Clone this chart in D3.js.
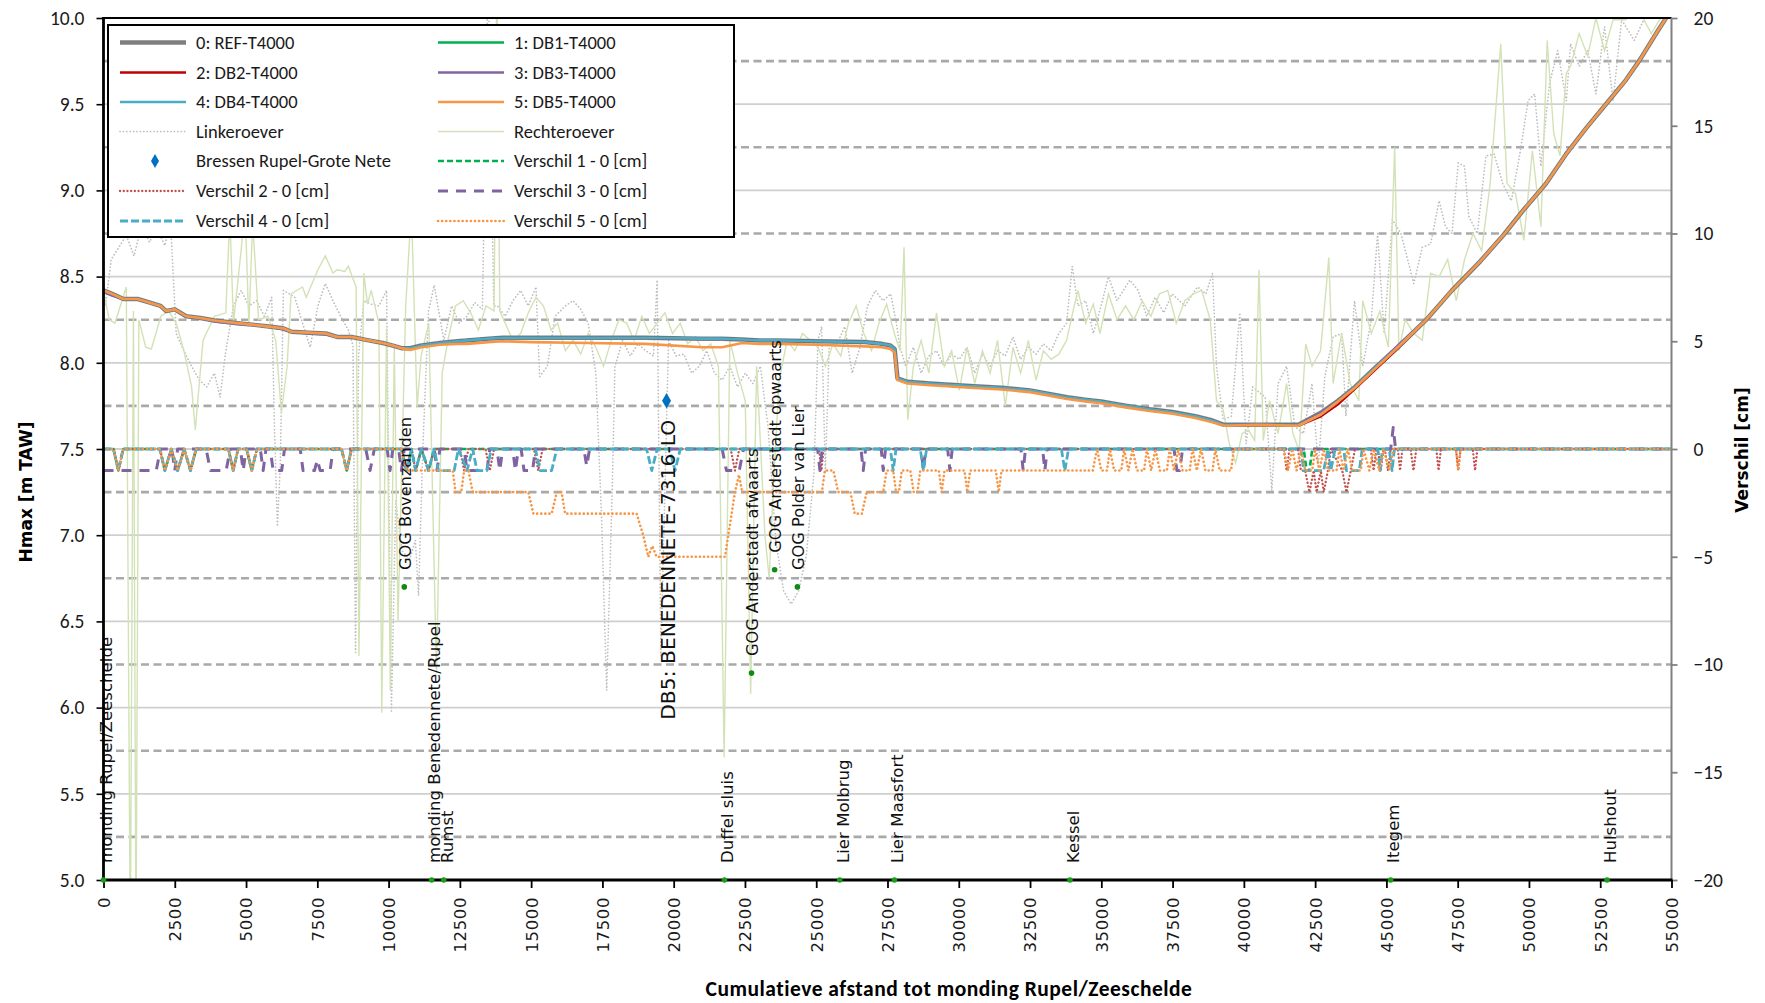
<!DOCTYPE html>
<html lang="nl">
<head>
<meta charset="UTF-8">
<title>Hmax langsprofiel Benedennete</title>
<script src="https://d3js.org/d3.v7.min.js"></script>
<style>
  body { margin: 0; background: #fff; }
  svg { display: block; }
  .tick text { fill: #1a1a1a; }
  .lbl { font-family: "DejaVu Sans", Verdana, sans-serif; fill: #111; }
</style>
</head>
<body>
<script>
// ---- data (afstand in m, waterstand in m TAW, verschil in cm) ----
const xTicks = d3.range(0, 55001, 2500);
const leftTicks = [5.0, 5.5, 6.0, 6.5, 7.0, 7.5, 8.0, 8.5, 9.0, 9.5, 10.0];
const rightTicks = [-20, -15, -10, -5, 0, 5, 10, 15, 20];
const rightGrid = [-18, -14, -10, -6, -2, 2, 6, 10, 14, 18];

const xH = [0, 300, 700, 1200, 1600, 2000, 2200, 2500, 2900, 3400, 3900, 4700, 5300, 5800, 6300, 6600, 7200, 7800, 8200, 8700,
  9300, 9800, 10150, 10450, 10750, 11150, 11800, 12400, 12750, 13500, 14000, 15000, 17000, 19000, 21000, 21700, 22400, 23000, 23700, 25000,
  26700, 27300, 27600, 27750, 27850, 28200, 29000, 30400, 31500, 32500, 33800, 34500, 35000, 35900, 36700, 37500, 38300, 38900, 39300, 40500,
  41900, 42700, 43300, 43900, 44600, 45400, 46400, 47300, 48300, 49100, 49800, 50600, 51300, 52000, 52800, 53400, 53900, 54500, 55000];

const hREF = [8.42, 8.40, 8.37, 8.37, 8.35, 8.33, 8.30, 8.31, 8.27, 8.26, 8.245, 8.23, 8.22, 8.21, 8.20, 8.18, 8.175, 8.17, 8.15, 8.15,
  8.13, 8.115, 8.10, 8.085, 8.085, 8.10, 8.115, 8.125, 8.13, 8.14, 8.145, 8.145, 8.145, 8.145, 8.14, 8.14, 8.135, 8.13, 8.13, 8.125,
  8.12, 8.11, 8.10, 8.08, 7.91, 7.89, 7.88, 7.865, 7.855, 7.84, 7.80, 7.785, 7.775, 7.75, 7.73, 7.715, 7.69, 7.665, 7.64, 7.64,
  7.64, 7.71, 7.78, 7.86, 7.97, 8.09, 8.25, 8.42, 8.59, 8.74, 8.885, 9.04, 9.21, 9.36, 9.52, 9.64, 9.76, 9.92, 10.05];
const hDB1 = [8.42, 8.40, 8.37, 8.37, 8.35, 8.33, 8.30, 8.31, 8.27, 8.26, 8.245, 8.23, 8.22, 8.21, 8.20, 8.18, 8.175, 8.17, 8.15, 8.15,
  8.13, 8.115, 8.10, 8.085, 8.085, 8.10, 8.115, 8.125, 8.13, 8.14, 8.145, 8.145, 8.145, 8.145, 8.14, 8.14, 8.135, 8.13, 8.13, 8.125,
  8.12, 8.11, 8.10, 8.08, 7.91, 7.89, 7.88, 7.865, 7.855, 7.84, 7.80, 7.785, 7.775, 7.75, 7.73, 7.715, 7.69, 7.665, 7.64, 7.64,
  7.64, 7.70, 7.78, 7.86, 7.97, 8.09, 8.25, 8.42, 8.59, 8.74, 8.885, 9.04, 9.21, 9.36, 9.52, 9.64, 9.76, 9.92, 10.05];
const hDB2 = [8.42, 8.40, 8.37, 8.37, 8.35, 8.33, 8.30, 8.31, 8.27, 8.26, 8.245, 8.23, 8.22, 8.21, 8.20, 8.18, 8.175, 8.17, 8.15, 8.15,
  8.13, 8.115, 8.10, 8.085, 8.085, 8.10, 8.115, 8.125, 8.13, 8.14, 8.145, 8.145, 8.145, 8.145, 8.14, 8.14, 8.135, 8.13, 8.13, 8.125,
  8.12, 8.11, 8.10, 8.08, 7.91, 7.89, 7.88, 7.865, 7.855, 7.84, 7.80, 7.785, 7.775, 7.75, 7.73, 7.715, 7.69, 7.665, 7.64, 7.64,
  7.635, 7.69, 7.76, 7.85, 7.96, 8.085, 8.25, 8.42, 8.59, 8.74, 8.885, 9.04, 9.21, 9.36, 9.52, 9.64, 9.76, 9.92, 10.05];
const hDB3 = [8.41, 8.39, 8.37, 8.37, 8.35, 8.33, 8.30, 8.31, 8.27, 8.26, 8.24, 8.225, 8.22, 8.21, 8.195, 8.18, 8.17, 8.165, 8.15, 8.15,
  8.13, 8.115, 8.10, 8.085, 8.085, 8.10, 8.115, 8.125, 8.13, 8.14, 8.145, 8.145, 8.145, 8.145, 8.14, 8.14, 8.135, 8.13, 8.13, 8.125,
  8.12, 8.11, 8.10, 8.08, 7.91, 7.89, 7.88, 7.865, 7.855, 7.84, 7.80, 7.785, 7.775, 7.75, 7.73, 7.71, 7.69, 7.665, 7.64, 7.64,
  7.64, 7.71, 7.78, 7.86, 7.97, 8.10, 8.25, 8.42, 8.59, 8.74, 8.885, 9.04, 9.21, 9.36, 9.52, 9.64, 9.76, 9.92, 10.05];
const hDB4 = [8.42, 8.40, 8.37, 8.37, 8.35, 8.33, 8.30, 8.31, 8.27, 8.26, 8.245, 8.23, 8.22, 8.21, 8.20, 8.18, 8.175, 8.17, 8.15, 8.15,
  8.13, 8.115, 8.10, 8.085, 8.085, 8.10, 8.115, 8.125, 8.13, 8.14, 8.145, 8.145, 8.145, 8.145, 8.14, 8.14, 8.135, 8.13, 8.13, 8.125,
  8.12, 8.11, 8.10, 8.08, 7.91, 7.89, 7.88, 7.865, 7.855, 7.84, 7.80, 7.785, 7.775, 7.75, 7.73, 7.715, 7.69, 7.665, 7.64, 7.64,
  7.635, 7.70, 7.775, 7.86, 7.97, 8.09, 8.25, 8.42, 8.59, 8.74, 8.885, 9.04, 9.21, 9.36, 9.52, 9.64, 9.76, 9.92, 10.05];
const hDB5 = [8.42, 8.40, 8.37, 8.37, 8.35, 8.33, 8.30, 8.31, 8.27, 8.26, 8.245, 8.23, 8.22, 8.21, 8.20, 8.18, 8.175, 8.17, 8.15, 8.15,
  8.13, 8.115, 8.10, 8.085, 8.075, 8.09, 8.105, 8.11, 8.11, 8.12, 8.125, 8.12, 8.115, 8.11, 8.09, 8.09, 8.115, 8.11, 8.11, 8.105,
  8.095, 8.09, 8.08, 8.06, 7.90, 7.88, 7.87, 7.855, 7.845, 7.83, 7.79, 7.775, 7.765, 7.74, 7.72, 7.705, 7.68, 7.655, 7.635, 7.64,
  7.635, 7.70, 7.775, 7.855, 7.965, 8.09, 8.25, 8.42, 8.59, 8.74, 8.885, 9.04, 9.21, 9.36, 9.52, 9.64, 9.76, 9.92, 10.05];

// oeverhoogtes [afstand, m TAW]
const linkeroever = [[0, 8.40], [70, 8.33], [270, 8.60], [540, 8.67], [800, 8.74], [1070, 8.62], [1340, 8.80], [1610, 8.70], [1880, 8.78], [2150, 8.68],
  [2350, 8.82], [2550, 8.17], [2820, 8.07], [3090, 7.98], [3360, 7.90], [3620, 7.86], [3890, 7.94], [4090, 7.80], [4290, 8.07], [4560, 8.33],
  [4830, 8.42], [5100, 8.33], [5370, 8.36], [5640, 8.27], [5900, 8.38], [6000, 7.60], [6100, 7.05], [6200, 7.40], [6310, 8.42], [6710, 8.38],
  [6980, 8.23], [7250, 8.09], [7520, 8.33], [7780, 8.46], [8050, 8.36], [8320, 8.27], [8590, 8.19], [8750, 8.10], [8840, 6.32], [8950, 8.05],
  [9130, 8.36], [9390, 8.34], [9660, 8.33], [9930, 8.42], [10100, 5.98], [10250, 7.20], [10470, 6.91], [10740, 6.86], [10940, 6.97], [11050, 6.65],
  [11200, 7.50], [11400, 8.30], [11600, 8.45], [11940, 8.13], [12210, 8.33], [12480, 8.23], [12750, 8.27], [13020, 8.35], [13290, 8.31], [13490, 10.30],
  [13690, 8.33], [13820, 8.33], [14090, 8.27], [14360, 8.36], [14630, 8.42], [14900, 8.33], [15170, 8.44], [15300, 7.92], [15570, 7.98], [15840, 8.27],
  [16200, 8.33], [16470, 8.36], [16740, 8.31], [17000, 8.23], [17270, 7.94], [17470, 7.10], [17650, 6.10], [17850, 7.30], [17940, 7.98], [18210, 8.13],
  [18480, 8.04], [18750, 8.11], [19020, 8.07], [19290, 8.04], [19420, 8.48], [19550, 6.30], [19820, 8.13], [20090, 8.04], [20360, 8.05], [20630, 7.94],
  [20900, 7.98], [21160, 8.07], [21430, 7.94], [21700, 7.90], [21970, 7.98], [22240, 7.86], [22510, 7.94], [22780, 7.88], [23040, 7.98], [23310, 7.63],
  [23580, 6.97], [23850, 6.68], [24120, 6.60], [24390, 6.68], [24650, 6.88], [24920, 7.36], [25060, 8.13], [25190, 8.21], [25320, 7.36], [25460, 8.13],
  [25730, 8.11], [26000, 8.21], [26260, 7.94], [26530, 8.09], [26800, 8.33], [27070, 8.42], [27340, 8.36], [27610, 8.40], [27810, 8.23], [27940, 8.09],
  [28140, 7.98], [28410, 8.09], [28680, 7.94], [28950, 8.04], [29220, 8.07], [29490, 7.98], [29750, 8.05], [30020, 8.02], [30290, 8.09], [30560, 7.94],
  [30830, 8.05], [31100, 7.98], [31360, 8.07], [31630, 8.04], [31900, 8.15], [32170, 8.02], [32440, 8.09], [32710, 8.05], [32970, 8.11], [33240, 8.07],
  [33510, 8.17], [33780, 8.23], [33980, 8.56], [34180, 8.33], [34450, 8.36], [34720, 8.17], [34990, 8.33], [35250, 8.50], [35550, 8.36], [36000, 8.48],
  [36290, 8.42], [36590, 8.27], [36890, 8.38], [37190, 8.29], [37480, 8.40], [37930, 8.33], [38370, 8.44], [38670, 8.40], [38900, 8.52], [39040, 7.98],
  [39270, 7.67], [39560, 7.69], [39860, 8.29], [40080, 7.53], [40310, 7.86], [40750, 7.80], [40980, 7.26], [41200, 7.88], [41500, 7.98], [41790, 7.63],
  [42090, 7.59], [42390, 7.88], [42610, 7.40], [42840, 7.92], [43130, 8.15], [43430, 8.17], [43580, 7.69], [43880, 8.36], [44170, 7.98], [44470, 8.25],
  [44690, 8.75], [44920, 8.17], [45210, 8.83], [45510, 8.75], [45960, 8.46], [46260, 8.67], [46550, 8.69], [46850, 8.94], [47070, 8.79], [47300, 8.75],
  [47520, 9.16], [47740, 9.14], [47890, 8.85], [48190, 8.75], [48490, 9.20], [48780, 9.21], [49080, 9.04], [49380, 8.94], [49680, 9.21], [49970, 9.52],
  [50200, 9.56], [50420, 9.14], [50720, 9.62], [51010, 9.81], [51310, 9.52], [51460, 9.85], [51760, 9.72], [52060, 9.81], [52350, 9.56], [52650, 9.95],
  [52950, 9.52], [53250, 9.99], [53690, 9.87], [54140, 10.03], [54580, 10.00], [55000, 10.10]];

const rechteroever = [[0, 8.42], [200, 8.25], [400, 8.23], [800, 8.44], [940, 4.60], [1050, 8.30], [1140, 4.60], [1240, 8.25], [1480, 8.09], [1680, 8.08],
  [2010, 8.27], [2280, 8.30], [2550, 8.23], [2820, 8.07], [3090, 7.86], [3220, 7.61], [3360, 7.88], [3490, 8.13], [3890, 8.27], [4290, 8.29],
  [4430, 8.85], [4560, 8.23], [4970, 8.88], [5100, 8.21], [5230, 8.82], [5440, 8.25], [5770, 8.27], [6040, 8.13], [6240, 7.71], [6440, 7.98],
  [6580, 8.40], [6980, 8.44], [7110, 8.38], [7520, 8.54], [7780, 8.62], [8050, 8.52], [8190, 8.54], [8460, 8.53], [8590, 8.56], [8860, 8.44],
  [8960, 6.30], [9130, 8.52], [9260, 8.34], [9390, 8.42], [9660, 8.23], [9760, 5.97], [9930, 8.20], [10060, 6.10], [10200, 8.10], [10330, 6.50],
  [10600, 8.33], [10800, 8.90], [11000, 7.74], [11140, 8.04], [11410, 8.23], [11680, 6.20], [11880, 7.94], [12080, 8.13], [12350, 8.33], [12620, 8.36],
  [12880, 8.29], [13150, 8.19], [13420, 8.33], [13700, 8.30], [13800, 10.30], [13900, 8.30], [14090, 8.23], [14360, 8.13], [14630, 8.17], [14900, 8.29],
  [15170, 8.38], [15430, 8.33], [15700, 8.19], [15930, 8.23], [16200, 8.07], [16470, 8.13], [16740, 8.05], [17000, 8.17], [17270, 8.09], [17540, 7.98],
  [17810, 8.13], [18080, 8.25], [18350, 8.23], [18610, 8.13], [18880, 8.27], [19150, 8.17], [19420, 8.23], [19690, 8.29], [19960, 8.17], [20230, 8.23],
  [20490, 8.11], [20760, 8.15], [21030, 8.07], [21300, 8.11], [21570, 7.98], [21770, 5.71], [21970, 8.13], [22240, 7.94], [22510, 7.78], [22700, 6.08],
  [22910, 7.98], [23200, 7.00], [23350, 6.75], [23500, 7.30], [23700, 7.90], [23980, 8.13], [24250, 8.07], [24520, 8.17], [24790, 8.13], [25060, 8.09],
  [25320, 7.98], [25590, 8.11], [25860, 8.04], [26130, 8.23], [26400, 8.33], [26670, 8.17], [26940, 8.07], [27200, 8.23], [27470, 8.34], [27740, 8.17],
  [27940, 8.07], [28080, 8.67], [28210, 7.67], [28410, 7.98], [28680, 8.13], [28950, 7.94], [29220, 8.29], [29490, 7.98], [29750, 8.07], [30020, 7.84],
  [30290, 8.09], [30560, 7.88], [30830, 8.07], [31100, 7.94], [31360, 8.13], [31630, 7.75], [31900, 8.09], [32170, 7.94], [32440, 8.13], [32710, 7.90],
  [32970, 8.07], [33240, 8.02], [33510, 8.05], [33780, 8.13], [34050, 8.33], [34180, 8.42], [34450, 8.23], [34720, 8.34], [34950, 8.17], [35250, 8.40],
  [35550, 8.25], [35850, 8.33], [36140, 8.25], [36440, 8.36], [36740, 8.27], [37040, 8.40], [37330, 8.42], [37630, 8.23], [37930, 8.36], [38230, 8.40],
  [38520, 8.42], [38820, 8.25], [39040, 7.78], [39270, 7.73], [39490, 7.53], [39710, 7.42], [39940, 7.59], [40160, 7.61], [40380, 7.55], [40530, 8.54],
  [40680, 7.55], [40900, 7.78], [41200, 7.59], [41500, 7.88], [41720, 7.59], [41940, 7.49], [42170, 8.11], [42390, 7.98], [42690, 8.07], [42980, 8.61],
  [43130, 7.88], [43430, 8.17], [43730, 7.88], [44030, 7.78], [44170, 8.36], [44470, 8.17], [44770, 8.30], [45070, 8.09], [45290, 9.25], [45440, 8.07],
  [45660, 8.25], [45960, 8.17], [46260, 8.13], [46550, 8.52], [46850, 8.50], [47150, 8.60], [47450, 8.36], [47740, 8.60], [48040, 8.75], [48340, 8.65],
  [48640, 9.04], [49010, 9.85], [49230, 9.04], [49530, 8.98], [49820, 8.71], [50120, 9.23], [50420, 8.79], [50640, 9.87], [50870, 9.33], [51090, 9.20],
  [51310, 9.68], [51460, 9.72], [51760, 9.91], [52060, 9.78], [52350, 10.00], [52650, 9.81], [52950, 9.99], [53390, 9.99], [53840, 10.05], [54290, 9.91],
  [54730, 10.03], [55000, 10.10]];

// verschillen t.o.v. referentie [afstand, cm]
const verschil1 = [[0, 0], [350, 0], [520, -1], [690, 0], [1980, 0], [2150, -1], [2380, 0], [2600, -1], [2830, 0], [3050, -1], [3250, 0],
  [4380, 0], [4550, -1], [4720, 0], [5020, 0], [5200, -1], [5380, 0], [8350, 0], [8530, -1], [8700, 0], [10450, 0], [10630, -1], [10800, 0],
  [10950, -1], [11150, 0], [11400, -1], [11600, 0], [42100, 0], [42200, -1], [42300, -1], [42400, 0], [55000, 0]];
const verschil2 = [[0, 0], [350, 0], [520, -1], [690, 0], [1980, 0], [2150, -1], [2380, 0], [2600, -1], [2830, 0], [3050, -1], [3250, 0],
  [4380, 0], [4550, -1], [4720, 0], [5020, 0], [5200, -1], [5380, 0], [8350, 0], [8530, -1], [8700, 0], [10450, 0], [10630, -1], [10800, 0],
  [10950, -1], [11150, 0], [11400, -1], [11600, 0], [12500, 0], [12650, -1], [12800, 0], [13400, 0], [13550, -1], [13700, 0], [15100, 0],
  [15250, -1], [15400, 0], [22000, 0], [22150, -1], [22300, 0], [25100, 0], [25180, -1], [25260, 0], [41400, 0], [41500, -1], [41600, 0],
  [41900, 0], [42000, -1], [42150, -1], [42300, -2], [42450, -1], [42550, -2], [42700, -1], [42800, -2], [42950, -1], [43050, 0], [43450, -1],
  [43600, -2], [43750, -1], [43900, 0], [44450, 0], [44550, -1], [44650, 0], [44700, 0], [44800, -1], [44900, 0], [44950, 0], [45050, -1],
  [45150, 0], [45400, 0], [45480, -1], [45560, 0], [45850, 0], [45950, -1], [46050, 0], [46750, 0], [46830, -1], [46910, 0], [47440, 0],
  [47520, -1], [47600, 0], [48030, 0], [48110, -1], [48190, 0], [55000, 0]];
const verschil3 = [[0, -1], [1850, -1], [2000, 0], [2400, 0], [2500, -1], [2600, 0], [3600, 0], [3750, -1], [4300, -1], [4450, 0], [4800, 0],
  [4900, -1], [5000, 0], [5500, 0], [5600, -1], [5700, 0], [5850, 0], [5950, -1], [6250, -1], [6350, 0], [6900, 0], [7000, -1], [7400, -1],
  [7500, -0.5], [7600, -1], [7950, -1], [8050, 0], [9200, 0], [9350, -1], [9500, 0], [9950, 0], [10050, -1], [10150, 0], [10350, 0],
  [10450, -1], [10550, 0], [11600, 0], [11700, -1], [11800, 0], [12650, 0], [12750, -1], [13450, -1], [13550, 0], [13800, 0], [13900, -1],
  [14000, 0], [14350, 0], [14450, -1], [14550, 0], [14650, 0], [14750, -1], [15050, -1], [15150, 0], [16850, 0], [16950, -0.8], [17050, 0],
  [21700, 0], [21850, -1], [22300, -1], [22450, 0], [25050, 0], [25130, -1], [25210, 0], [26570, 0], [26650, -1], [26730, 0], [27280, 0],
  [27350, -1], [27430, 0], [28680, 0], [28760, -1], [28840, 0], [29610, 0], [29690, -1], [29770, 0], [32180, 0], [32260, -1], [32340, 0],
  [32940, 0], [33020, -1], [33100, 0], [37550, 0], [37650, -1], [37750, -1], [37850, 0], [45150, 0], [45240, 1], [45320, 0], [55000, 0]];
const verschil4 = [[0, 0], [350, 0], [520, -1], [690, 0], [1980, 0], [2150, -1], [2380, 0], [2600, -1], [2830, 0], [3050, -1], [3250, 0],
  [4380, 0], [4550, -1], [4720, 0], [5020, 0], [5200, -1], [5380, 0], [8350, 0], [8530, -1], [8700, 0], [10450, 0], [10630, -1], [10800, 0],
  [10950, -1], [11150, 0], [11400, -1], [11600, 0], [11750, -1], [12300, -1], [12450, 0], [12750, -1], [12950, 0], [13100, -1], [13450, -1],
  [13600, 0], [15150, 0], [15310, -1], [15720, -1], [15900, 0], [19050, 0], [19230, -1], [19420, 0], [19850, 0], [20050, -1], [20230, 0],
  [27600, 0], [27700, -1], [27800, 0], [28650, 0], [28760, -1], [28870, 0], [33600, 0], [33720, -1], [33850, 0], [42000, 0], [42100, -1],
  [42800, -1], [42950, 0], [43050, -1], [43200, 0], [43500, 0], [43600, -1], [44050, -1], [44150, 0], [44700, 0], [44780, -1], [44860, 0],
  [45100, 0], [45200, -1], [45280, 0], [55000, 0]];
const verschil5 = [[0, 0], [350, 0], [520, -1], [690, 0], [1980, 0], [2150, -1], [2380, 0], [2600, -1], [2830, 0], [3050, -1], [3250, 0],
  [4380, 0], [4550, -1], [4720, 0], [5020, 0], [5200, -1], [5380, 0], [8350, 0], [8530, -1], [8700, 0], [10450, 0], [10630, -1], [10800, -1],
  [12250, -1], [12350, -2], [12550, -2], [12650, -1], [12800, -1], [12950, -2], [14900, -2], [15080, -3], [15720, -3], [15900, -2], [16070, -2],
  [16190, -3], [18700, -3], [18930, -4], [19110, -5], [19250, -4.5], [19400, -5], [21800, -5], [22150, -2], [22290, -1.2], [22400, -2],
  [25200, -2], [25300, -1], [25600, -1], [25770, -2], [26200, -2], [26350, -3], [26600, -3], [26770, -2], [27350, -2], [27470, -1], [27700, -1],
  [27800, -2], [27900, -2], [28000, -1], [28300, -1], [28420, -2], [28550, -2], [28650, -1], [29300, -1], [29400, -2], [29500, -1], [30200, -1],
  [30300, -2], [30400, -1], [31300, -1], [31400, -2], [31500, -1], [34700, -1], [34850, 0], [35000, -1], [35200, -1], [35300, 0], [35450, -1],
  [35700, -1], [35800, 0], [35950, -1], [36100, 0], [36250, -1], [36500, -1], [36600, 0], [36750, -1], [36900, 0], [37050, -1], [37300, -1],
  [37400, 0], [37550, -1], [37700, 0], [37850, -1], [38100, -1], [38200, 0], [38350, -1], [38500, 0], [38650, -1], [38900, -1], [39000, 0],
  [39150, -1], [39550, -1], [39650, 0], [41400, 0], [41550, -1], [41700, 0], [41850, -1], [42000, 0], [42150, -1], [42400, -1], [42500, 0],
  [42650, -1], [42800, 0], [42950, -1], [43250, -1], [43350, 0], [43500, -1], [43650, 0], [43800, -1], [44100, -1], [44200, 0], [44400, -1],
  [44550, 0], [44750, -1], [44900, 0], [45100, -1], [45250, 0], [47440, 0], [47520, -1], [47600, 0], [55000, 0]];

const bressenX = [19750];
const bressenY = [7.78];
const bressenLabel = "DB5: BENEDENNETE-7316-LO";

const gogNames = ["GOG Bovenzanden", "GOG Anderstadt afwaarts", "GOG Anderstadt opwaarts", "GOG Polder van Lier"];
const gogX = [10550, 22730, 23540, 24340];
const gogY = [6.70, 6.20, 6.80, 6.70];

const locNames = ["monding Rupel/Zeeschelde", "monding Benedennete/Rupel", "Rumst", "Duffel sluis", "Lier Molbrug",
  "Lier Maasfort", "Kessel", "Itegem", "Hulshout"];
const locX = [0, 11510, 11935, 21780, 25825, 27740, 33900, 45150, 52740];

// ---- layout ----
const W = 1765, H = 1003;
const pL = 103.5, pR = 1671.5, pT = 18, pB = 880;

const svg = d3.select("body").append("svg").attr("width", W).attr("height", H);

const x = d3.scaleLinear().domain([0, 55000]).range([pL, pR]);
const yL = d3.scaleLinear().domain([5, 10]).range([pB, pT]);
const yR = d3.scaleLinear().domain([-20, 20]).range([pB, pT]);

svg.append("clipPath").attr("id", "plot")
  .append("rect").attr("x", pL).attr("y", pT).attr("width", pR - pL).attr("height", pB - pT);

// gridlines
svg.append("g").selectAll("line").data(leftTicks.filter(d => d > 5 && d < 10)).join("line")
  .attr("x1", pL).attr("x2", pR).attr("y1", d => yL(d)).attr("y2", d => yL(d))
  .attr("stroke", "#cfcfcf").attr("stroke-width", 1.8);
svg.append("g").selectAll("line").data(rightGrid).join("line")
  .attr("x1", pL).attr("x2", pR).attr("y1", d => yR(d)).attr("y2", d => yR(d))
  .attr("stroke", "#a9a9a9").attr("stroke-width", 2.6).attr("stroke-dasharray", "8 4.5");

const plot = svg.append("g").attr("clip-path", "url(#plot)");

const lineL = d3.line().x(d => x(d[0])).y(d => yL(d[1]));
const lineR = d3.line().x(d => x(d[0])).y(d => yR(d[1]));
const pairs = vals => xH.map((d, i) => [d, vals[i]]);

// main Hmax lines
const mainSeries = [
  { name: "0: REF-T4000", vals: hREF, color: "#7f7f7f", w: 4.5 },
  { name: "1: DB1-T4000", vals: hDB1, color: "#00b050", w: 2.6 },
  { name: "2: DB2-T4000", vals: hDB2, color: "#c00000", w: 2.6 },
  { name: "3: DB3-T4000", vals: hDB3, color: "#8064a2", w: 2.6 },
  { name: "4: DB4-T4000", vals: hDB4, color: "#4bacc6", w: 2.6 },
  { name: "5: DB5-T4000", vals: hDB5, color: "#f79646", w: 2.6 }
];

// banks
plot.append("path").attr("d", lineL(linkeroever)).attr("fill", "none")
  .attr("stroke", "#bdbdbd").attr("stroke-width", 1.7).attr("stroke-dasharray", "0.1 3.3").attr("stroke-linecap", "round");
plot.append("path").attr("d", lineL(rechteroever)).attr("fill", "none")
  .attr("stroke", "#d3e2b6").attr("stroke-width", 1.4);

mainSeries.forEach(s => {
  plot.append("path").attr("d", lineL(pairs(s.vals))).attr("fill", "none")
    .attr("stroke", s.color).attr("stroke-width", s.w).attr("stroke-linejoin", "round");
});

// verschil lines (right axis)
const diffSeries = [
  { name: "Verschil 1 - 0 [cm]", vals: verschil1, color: "#00b050", w: 2.6, dash: "6 3", cap: "butt" },
  { name: "Verschil 2 - 0 [cm]", vals: verschil2, color: "#c0504d", w: 2.3, dash: "0.1 3.6", cap: "round" },
  { name: "Verschil 3 - 0 [cm]", vals: verschil3, color: "#8064a2", w: 3, dash: "10 8", cap: "butt" },
  { name: "Verschil 4 - 0 [cm]", vals: verschil4, color: "#4bacc6", w: 2.8, dash: "8 3", cap: "butt" },
  { name: "Verschil 5 - 0 [cm]", vals: verschil5, color: "#f79646", w: 2.6, dash: "0.1 4", cap: "round" }
];
diffSeries.forEach(s => {
  plot.append("path").attr("d", lineR(s.vals)).attr("fill", "none")
    .attr("stroke", s.color).attr("stroke-width", s.w).attr("stroke-dasharray", s.dash)
    .attr("stroke-linecap", s.cap).attr("stroke-linejoin", "round");
});

// bressen marker + label
const diamond = d3.symbol().type(d3.symbolDiamond);
svg.append("g").selectAll("path").data(bressenX).join("path")
  .attr("d", diamond.size(70))
  .attr("transform", (d, i) => `translate(${x(d)},${yL(bressenY[i])})`)
  .attr("fill", "#0070c0");
svg.append("g").selectAll("text").data(bressenX).join("text")
  .attr("class", "lbl")
  .attr("transform", (d, i) => `translate(${x(d) + 1},${yL(bressenY[i]) + 19}) rotate(-90)`)
  .attr("text-anchor", "end").attr("dy", "0.35em")
  .style("font-size", "20.3px")
  .text(bressenLabel);

// GOG points
svg.append("g").selectAll("circle").data(gogX).join("circle")
  .attr("cx", d => x(d)).attr("cy", (d, i) => yL(gogY[i])).attr("r", 2.8).attr("fill", "#118a11");
svg.append("g").selectAll("text").data(gogX).join("text")
  .attr("class", "lbl")
  .attr("transform", (d, i) => `translate(${x(d) + 1},${yL(gogY[i]) - 17}) rotate(-90)`)
  .attr("dy", "0.35em").style("font-size", "16.2px")
  .text((d, i) => gogNames[i]);

// locations along the bottom
svg.append("g").selectAll("text").data(locX).join("text")
  .attr("class", "lbl")
  .attr("transform", d => `translate(${x(d) + 3},${yL(5) - 17}) rotate(-90)`)
  .attr("dy", "0.35em").style("font-size", "16.6px")
  .text((d, i) => locNames[i]);

// axes
const tickFont = "Carlito, Lato, 'Liberation Sans Narrow', sans-serif";
const gL = svg.append("g").attr("transform", `translate(${pL},0)`)
  .call(d3.axisLeft(yL).tickValues(leftTicks).tickFormat(d3.format(".1f")).tickSize(7).tickSizeOuter(0).tickPadding(12));
gL.select(".domain").remove();
gL.selectAll(".tick line").attr("stroke", "#000").attr("stroke-width", 1.6);
gL.selectAll(".tick text").style("font-family", tickFont).style("font-size", "19.5px");

const gR = svg.append("g").attr("transform", `translate(${pR},0)`)
  .call(d3.axisRight(yR).tickValues(rightTicks).tickSize(6).tickSizeOuter(0).tickPadding(16));
gR.select(".domain").remove();
gR.selectAll(".tick line").attr("stroke", "#808080").attr("stroke-width", 1.8);
gR.selectAll(".tick text").style("font-family", tickFont).style("font-size", "19.5px");

const gB = svg.append("g").attr("transform", `translate(0,${pB})`)
  .call(d3.axisBottom(x).tickValues(xTicks).tickFormat(d3.format("d")).tickSize(8).tickSizeOuter(0));
gB.select(".domain").remove();
gB.selectAll(".tick line").attr("stroke", "#000").attr("stroke-width", 1.8);
gB.selectAll(".tick text")
  .attr("transform", "rotate(-90)").attr("text-anchor", "end")
  .attr("x", -17).attr("y", 0).attr("dy", "0.36em")
  .style("font-family", "'DejaVu Sans', Verdana, sans-serif").style("font-size", "16.5px")
  .style("letter-spacing", "0.6px");

// axis lines
svg.append("line").attr("x1", pL).attr("x2", pR).attr("y1", pT).attr("y2", pT)
  .attr("stroke", "#000").attr("stroke-width", 2);
svg.append("line").attr("x1", pR).attr("x2", pR).attr("y1", pT).attr("y2", pB)
  .attr("stroke", "#808080").attr("stroke-width", 2);
svg.append("line").attr("x1", pL).attr("x2", pL).attr("y1", pT - 1).attr("y2", pB + 1.5)
  .attr("stroke", "#000").attr("stroke-width", 2.8);
svg.append("line").attr("x1", pL - 1).attr("x2", pR + 1).attr("y1", pB).attr("y2", pB)
  .attr("stroke", "#000").attr("stroke-width", 3.2);

// location markers on the x axis
svg.append("g").selectAll("circle").data(locX).join("circle")
  .attr("cx", d => x(d)).attr("cy", yL(5)).attr("r", 2.8).attr("fill", "#16a016");

// axis titles
svg.append("text").attr("transform", "translate(26,492) rotate(-90)")
  .attr("text-anchor", "middle").attr("dy", "0.35em")
  .style("font-family", "'DejaVu Sans', sans-serif").style("font-weight", "bold").style("font-size", "17px")
  .text("Hmax [m TAW]");
svg.append("text").attr("transform", "translate(1742,450) rotate(-90)")
  .attr("text-anchor", "middle").attr("dy", "0.35em")
  .style("font-family", "'DejaVu Sans', sans-serif").style("font-weight", "bold").style("font-size", "17px")
  .text("Verschil [cm]");
svg.append("text").attr("x", 949).attr("y", 988)
  .attr("text-anchor", "middle").attr("dy", "0.35em")
  .style("font-family", "Carlito, Lato, sans-serif").style("font-weight", "bold").style("font-size", "21.5px")
  .style("letter-spacing", "0.5px")
  .text("Cumulatieve afstand tot monding Rupel/Zeeschelde");

// legend
const legend = svg.append("g");
legend.append("rect").attr("x", 108).attr("y", 25).attr("width", 626).attr("height", 212)
  .attr("fill", "#fff").attr("stroke", "#000").attr("stroke-width", 2);
const legendItems = [
  { label: mainSeries[0].name, color: mainSeries[0].color, w: 4.5 },
  { label: mainSeries[1].name, color: mainSeries[1].color, w: 2.6 },
  { label: mainSeries[2].name, color: mainSeries[2].color, w: 2.6 },
  { label: mainSeries[3].name, color: mainSeries[3].color, w: 2.6 },
  { label: mainSeries[4].name, color: mainSeries[4].color, w: 2.6 },
  { label: mainSeries[5].name, color: mainSeries[5].color, w: 2.6 },
  { label: "Linkeroever", color: "#bdbdbd", w: 1.7, dash: "0.1 3.3", cap: "round" },
  { label: "Rechteroever", color: "#d3e2b6", w: 1.4 },
  { label: "Bressen Rupel-Grote Nete", marker: true },
  ...diffSeries.map(s => ({ label: s.name, color: s.color, w: s.w, dash: s.dash, cap: s.cap }))
];
const rowY = [42.5, 72.5, 102, 131.5, 161, 191, 221];
const colX = [120, 438];
legendItems.forEach((it, i) => {
  const cx = colX[i % 2], cy = rowY[Math.floor(i / 2)];
  if (it.marker) {
    legend.append("path").attr("d", diamond.size(55)).attr("transform", `translate(${cx + 35},${cy})`).attr("fill", "#0070c0");
  } else {
    legend.append("line").attr("x1", cx).attr("x2", cx + 66).attr("y1", cy).attr("y2", cy)
      .attr("stroke", it.color).attr("stroke-width", it.w)
      .attr("stroke-dasharray", it.dash || null).attr("stroke-linecap", it.cap || "butt");
  }
  legend.append("text").attr("x", cx + 76).attr("y", cy).attr("dy", "0.35em")
    .style("font-family", "Carlito, Lato, sans-serif").style("font-size", "18.5px").style("fill", "#1a1a1a")
    .text(it.label);
});
</script>
</body>
</html>
